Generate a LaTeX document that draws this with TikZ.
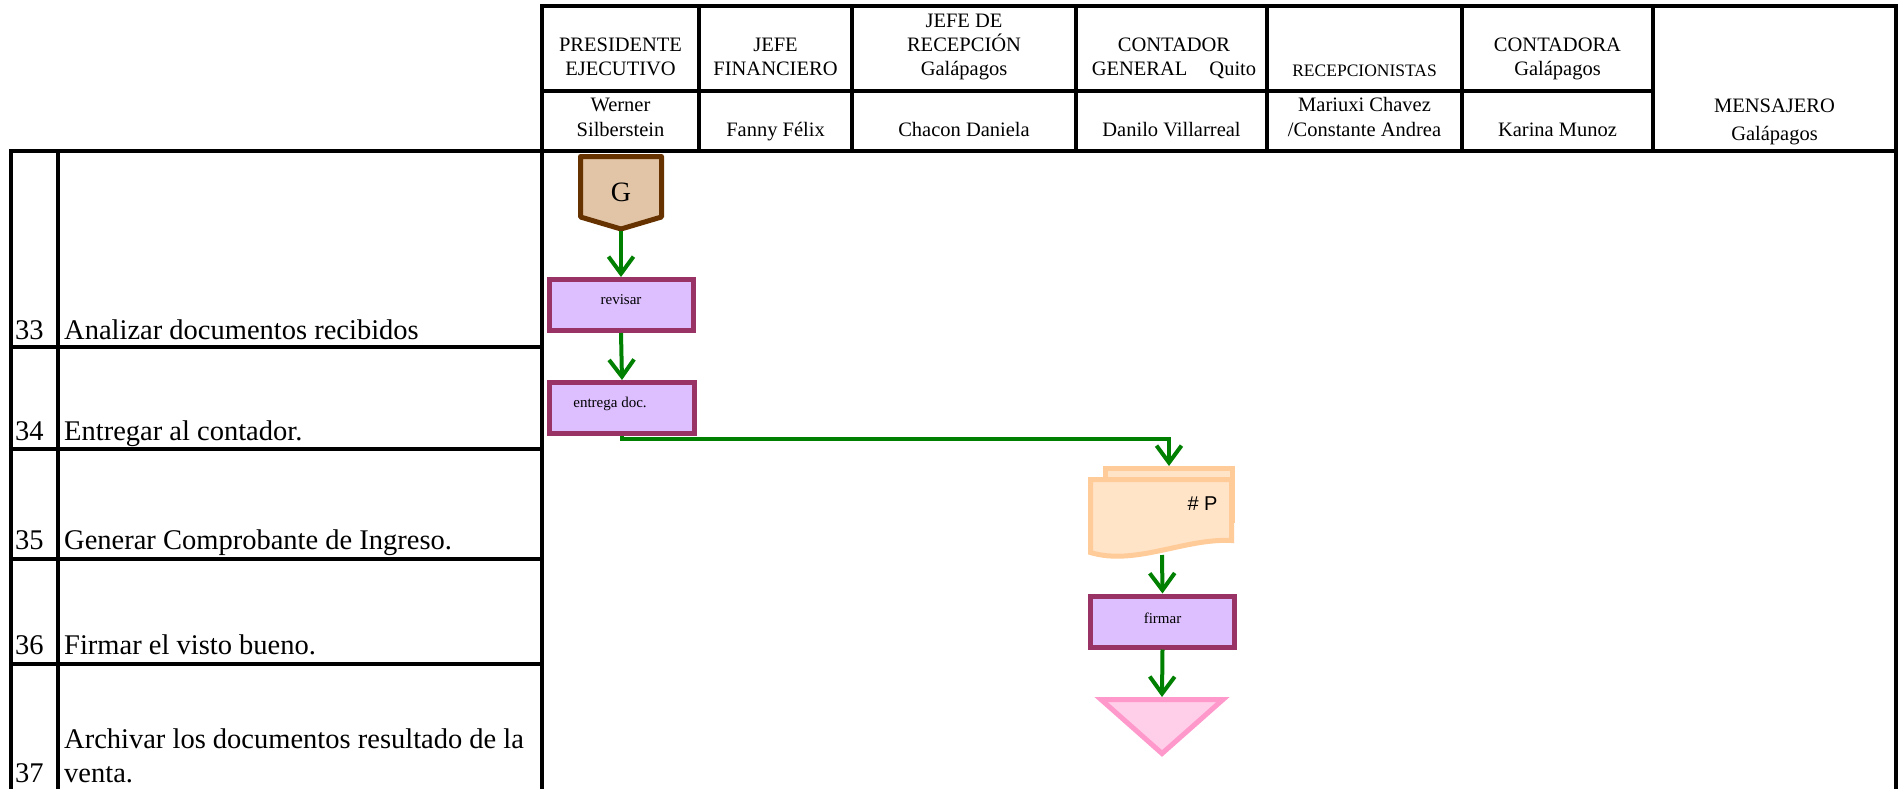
\documentclass[tikz,border=0pt]{standalone}
\usepackage{fontspec}
\setmainfont{Liberation Serif}
\newfontfamily\sansarial{Liberation Sans}
\usetikzlibrary{arrows.meta}

\definecolor{flowgreen}{RGB}{0,128,0}
\definecolor{gbrown}{RGB}{102,51,0}
\definecolor{gtan}{RGB}{226,196,166}
\definecolor{procborder}{RGB}{153,51,102}
\definecolor{procfill}{RGB}{221,191,255}
\definecolor{docborder}{RGB}{255,204,153}
\definecolor{docfill}{RGB}{255,228,200}
\definecolor{archborder}{RGB}{255,153,204}
\definecolor{archfill}{RGB}{255,206,232}

\begin{document}
\begin{tikzpicture}[x=1pt,y=-1pt,
  gridline/.style={line width=3.6pt, line cap=rect},
  hdr/.style={anchor=base, inner sep=0pt, font=\fontsize{20.5pt}{24pt}\selectfont},
  hdrsmall/.style={anchor=base, inner sep=0pt, font=\fontsize{17.5pt}{20pt}\selectfont},
  stepnum/.style={anchor=base west, inner sep=0pt, font=\fontsize{28.5pt}{33pt}\selectfont},
  steptext/.style={anchor=base west, inner sep=0pt, font=\fontsize{28.5pt}{33pt}\selectfont},
  proc/.style={draw=procborder, fill=procfill, line width=5pt,
    minimum width=144pt, minimum height=51pt, inner sep=0pt},
  proclabel/.style={font=\fontsize{15pt}{18pt}\selectfont, inner sep=0pt},
  flow/.style={draw=flowgreen, line width=4pt,
    -{Straight Barb[length=17pt,width=25pt]}}]

\useasboundingbox (0,0) rectangle (1903,789);
\fill[white] (0,0) rectangle (1903,789);

% ---- header grid ----
\draw[gridline] (542,6) -- (1896,6);
\draw[gridline] (542,91) -- (1653,91);
\draw[gridline] (11,151) -- (1896,151);
\foreach \xx in {699,852,1076,1267,1462,1653}
  \draw[gridline] (\xx,6) -- (\xx,151);
\draw[gridline] (542,6) -- (542,792);
\draw[gridline] (1896,6) -- (1896,792);

% ---- step list grid ----
\draw[gridline] (11,151) -- (11,792);
\draw[gridline] (58,151) -- (58,792);
\foreach \yy in {347,449,559,664}
  \draw[gridline] (11,\yy) -- (542,\yy);

% ---- header: roles ----
\node[hdr] (r1a) at (620.5,52) {PRESIDENTE};
\node[hdr] (r1b) at (620.5,76) {EJECUTIVO};
\node[hdr] (r2a) at (775.5,52) {JEFE};
\node[hdr] (r2b) at (775.5,76) {FINANCIERO};
\node[hdr] (r3a) at (964,28) {JEFE DE};
\node[hdr] (r3b) at (964,52) {RECEPCIÓN};
\node[hdr] (r3c) at (964,76) {Galápagos};
\node[hdr] (r4a) at (1174,52) {CONTADOR};
\node[hdr] (r4b) at (1174,76) {GENERAL\hspace{22pt}Quito};
\node[hdrsmall] (r5a) at (1364.5,77) {RECEPCIONISTAS};
\node[hdr] (r6a) at (1557.5,52) {CONTADORA};
\node[hdr] (r6b) at (1557.5,76) {Galápagos};
\node[hdr] (r7a) at (1774.5,113) {MENSAJERO};
\node[hdr] (r7b) at (1774.5,140) {Galápagos};

% ---- header: people ----
\node[hdr] (p1a) at (620.5,112) {Werner};
\node[hdr] (p1b) at (620.5,136) {Silberstein};
\node[hdr] (p2) at (775.5,136) {Fanny Félix};
\node[hdr] (p3) at (964,136) {Chacon Daniela};
\node[hdr] (p4) at (1171.5,136) {Danilo Villarreal};
\node[hdr] (p5a) at (1364.5,112) {Mariuxi Chavez};
\node[hdr] (p5b) at (1364.5,136) {/Constante Andrea};
\node[hdr] (p6) at (1557.5,136) {Karina Munoz};

% ---- steps ----
\node[stepnum] (n33) at (15,339) {33};
\node[steptext] (s33) at (64,339) {Analizar documentos recibidos};
\node[stepnum] (n34) at (15,440) {34};
\node[steptext] (s34) at (64,440) {Entregar al contador.};
\node[stepnum] (n35) at (15,549) {35};
\node[steptext] (s35) at (64,549) {Generar Comprobante de Ingreso.};
\node[stepnum] (n36) at (15,654) {36};
\node[steptext] (s36) at (64,654) {Firmar el visto bueno.};
\node[steptext] (s37a) at (64,748) {Archivar los documentos resultado de la};
\node[stepnum] (n37) at (15,782) {37};
\node[steptext] (s37b) at (64,782) {venta.};

% ---- off-page connector G ----
\filldraw[draw=gbrown, fill=gtan, line width=5pt, line join=round]
  (580.5,156.5) -- (661.5,156.5) -- (661.5,217) -- (621,229) -- (580.5,217) -- cycle;
\node[anchor=base, inner sep=0pt, font=\fontsize{28pt}{30pt}\selectfont] (gnode) at (621,201) {G};
\coordinate (gtip) at (621,231);

% ---- process boxes ----
\node[proc, label={[proclabel, yshift=5pt]center:revisar}] (revisar) at (621,305) {};
\node[proc, minimum width=145pt, label={[proclabel, xshift=-12pt, yshift=4pt]center:entrega doc.}] (entrega) at (622,408) {};
\node[proc, label={[proclabel, yshift=3pt]center:firmar}] (firmar) at (1162.5,621.5) {};

% ---- document (# P) ----
\filldraw[draw=docborder, fill=docfill, line width=5pt]
  (1105.5,468.5) rectangle (1232.5,520);
\filldraw[draw=docborder, fill=docfill, line width=5pt]
  (1090.5,479.5) -- (1231.5,479.5) -- (1231.5,540.5)
  .. controls (1185,538) and (1135,566) .. (1090.5,552.5) -- cycle;
\node[anchor=base, inner sep=0pt, font=\sansarial\fontsize{20pt}{22pt}\selectfont] (doclabel) at (1202.5,510) {\# P};
\coordinate (docin) at (1169,466);
\coordinate (docout) at (1162,555);

% ---- archive triangle ----
\filldraw[draw=archborder, fill=archfill, line width=5pt, line join=miter]
  (1101,699.5) -- (1223,699.5) -- (1162,753.5) -- cycle;
\coordinate (archtop) at (1162,697);

% ---- flow ----
\draw[flow] (gtip) -- (revisar.north);
\draw[flow] (revisar.south) -- (entrega.north);
\draw[flow] (entrega.south) -- ++(0,3) -| (docin);
\draw[flow] (docout) -- (firmar.north);
\draw[flow] (firmar.south) -- (archtop);

\end{tikzpicture}
\end{document}
